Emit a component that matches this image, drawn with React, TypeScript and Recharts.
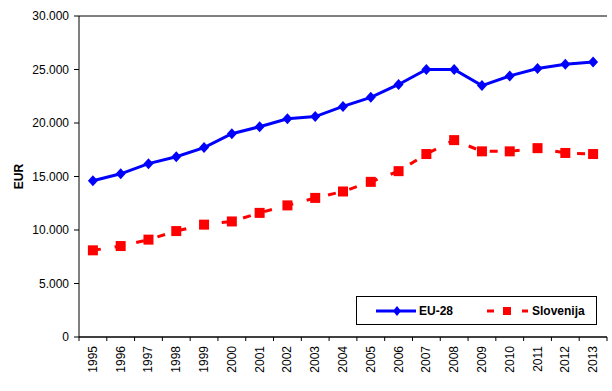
import React from 'react';
import { ComposedChart, Line, XAxis, YAxis, CartesianGrid, Legend } from 'recharts';

const years = ['1995','1996','1997','1998','1999','2000','2001','2002','2003','2004','2005','2006','2007','2008','2009','2010','2011','2012','2013'];
const eu28 = [14600,15250,16200,16850,17700,19000,19650,20400,20600,21550,22400,23600,25000,25000,23500,24400,25100,25500,25700];
const slovenija = [8100,8500,9100,9900,10500,10800,11600,12300,13000,13600,14500,15500,17100,18400,17350,17350,17650,17200,17100];
const yTicks = [0,5000,10000,15000,20000,25000,30000];

const data = years.map((y, i) => ({ year: y, eu: eu28[i], si: slovenija[i] }));

const W = 612;
const H = 391;
const M = { top: 16, right: 5, bottom: 14, left: 0 };
const Y_W = 79;
const X_H = 40;
const PLOT_W = W - M.left - M.right - Y_W;
const BW = PLOT_W / years.length;
const FONT = '"Liberation Sans", Arial, sans-serif';

const fmt = (v: number) => String(v).replace(/\B(?=(\d{3})+(?!\d))/g, '.');

const XTick = (props: any) => {
  const { x, y, payload, index } = props;
  return (
    <g>
      <line x1={x - BW / 2} x2={x - BW / 2} y1={y} y2={y + 4} stroke="#000" strokeWidth={1} />
      {index === years.length - 1 && (
        <line x1={x + BW / 2} x2={x + BW / 2} y1={y} y2={y + 4} stroke="#000" strokeWidth={1} />
      )}
      <text
        transform={`translate(${x},${y + 9}) rotate(-90)`}
        textAnchor="end"
        dominantBaseline="central"
        fontSize={12}
        fontFamily={FONT}
        fill="#000"
      >
        {payload.value}
      </text>
    </g>
  );
};

const Diamond = (props: any) => {
  const { cx, cy } = props;
  if (cx == null || cy == null) return null;
  return <polygon points={`${cx},${cy - 5.5} ${cx + 5},${cy} ${cx},${cy + 5.5} ${cx - 5},${cy}`} fill="#0000FF" stroke="none" />;
};

const Square = (props: any) => {
  const { cx, cy } = props;
  if (cx == null || cy == null) return null;
  return <rect x={cx - 5} y={cy - 5} width={10} height={10} fill="#FF0000" stroke="none" />;
};

const LegendBox = () => (
  <div
    style={{
      width: 239,
      height: 27,
      border: '1px solid #000',
      background: '#fff',
      boxSizing: 'content-box',
      position: 'relative',
      fontFamily: FONT,
      fontWeight: 'bold',
      fontSize: 12,
    }}
  >
    <svg width={239} height={27} style={{ position: 'absolute', left: 0, top: 0 }}>
      <line x1={19} x2={59} y1={14} y2={14} stroke="#0000FF" strokeWidth={3} />
      <polygon points="40,9 44,14 40,19 36,14" fill="#0000FF" />
      <text x={62} y={14} dominantBaseline="central" fontFamily={FONT} fontWeight="bold" fontSize={12} fill="#000">EU-28</text>
      <line x1={130} x2={137} y1={14} y2={14} stroke="#FF0000" strokeWidth={3} />
      <rect x={146} y={10} width={8} height={8} fill="#FF0000" />
      <line x1={165} x2={171} y1={14} y2={14} stroke="#FF0000" strokeWidth={3} />
      <text x={175} y={14} dominantBaseline="central" fontFamily={FONT} fontWeight="bold" fontSize={12} fill="#000">Slovenija</text>
    </svg>
  </div>
);

export default function App() {
  return (
    <div style={{ position: 'absolute', left: 0, top: 0, width: W, height: H, background: '#fff' }}>
      <ComposedChart width={W} height={H} data={data} margin={M}>
        <CartesianGrid horizontal={true} vertical={false} stroke="#000" strokeWidth={1} />
        <XAxis
          dataKey="year"
          interval={0}
          height={X_H}
          padding={{ left: BW / 2, right: BW / 2 }}
          tickLine={false}
          tickSize={0}
          tickMargin={0}
          axisLine={{ stroke: '#000', strokeWidth: 1 }}
          tick={<XTick />}
        />
        <YAxis
          yAxisId="left"
          width={Y_W}
          domain={[0, 30000]}
          ticks={yTicks}
          tickFormatter={fmt}
          tickSize={5}
          tickMargin={5}
          tickLine={{ stroke: '#000' }}
          axisLine={{ stroke: '#000', strokeWidth: 1 }}
          tick={{ fill: '#000', fontSize: 12, fontFamily: FONT }}
          label={{ value: 'EUR', angle: -90, position: 'center', dx: -21, style: { fontFamily: FONT, fontWeight: 'bold', fontSize: 12, fill: '#000' } }}
        />
        <YAxis
          yAxisId="right"
          orientation="right"
          width={0}
          domain={[0, 30000]}
          tick={false}
          tickLine={false}
          axisLine={{ stroke: '#000', strokeWidth: 1 }}
        />
        <Legend
          verticalAlign="middle"
          align="center"
          layout="horizontal"
          content={<LegendBox />}
          wrapperStyle={{ position: 'absolute', left: 356, top: 296, width: 241, height: 29 }}
        />
        <Line
          yAxisId="left"
          dataKey="eu"
          name="EU-28"
          stroke="#0000FF"
          strokeWidth={3}
          dot={<Diamond />}
          activeDot={false}
          isAnimationActive={false}
        />
        <Line
          yAxisId="left"
          dataKey="si"
          name="Slovenija"
          stroke="#FF0000"
          strokeWidth={3}
          strokeDasharray="8 14"
          dot={<Square />}
          activeDot={false}
          isAnimationActive={false}
        />
      </ComposedChart>
    </div>
  );
}
